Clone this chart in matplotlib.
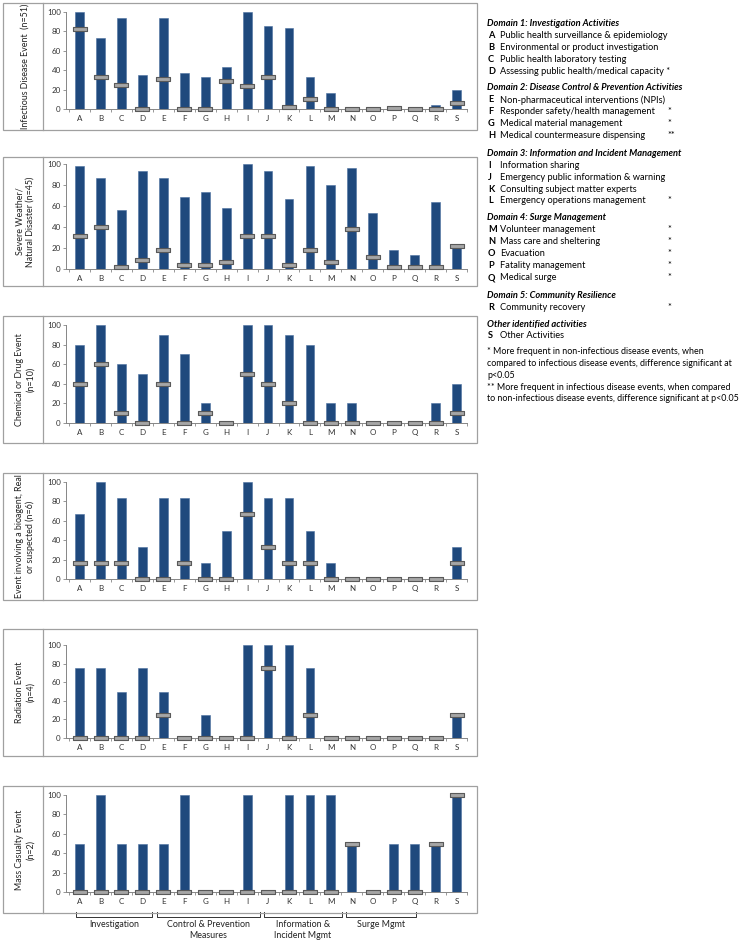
import numpy as np
import matplotlib
matplotlib.use("Agg")
import matplotlib.pyplot as plt
from matplotlib.path import Path
from matplotlib.patches import Rectangle
from matplotlib.lines import Line2D
from matplotlib.transforms import blended_transform_factory

plt.rcParams['font.family'] = ['Lato', 'DejaVu Sans']

W, H = 748, 944

letters = list("ABCDEFGHIJKLMNOPQRS")

# % of events with activity (bars) and % of activities (markers)
inf_pct = [100, 73, 94, 35, 94, 37, 33, 43, 100, 86, 84, 33, 16, 0, 0, 0, 0, 4, 20]
inf_mark = [82, 33, 25, 0, 31, 0, 0, 29, 24, 33, 2, 10, 0, 0, 0, 1, 0, 0.5, 6]

sev_pct = [98, 87, 56, 93, 87, 69, 73, 58, 100, 93, 67, 98, 80, 96, 53, 18, 13, 64, 22]
sev_mark = [31, 40, 2, 9, 18, 4, 4, 7, 31, 31, 4, 18, 7, 38, 11, 2, 2, 2, 22]

chem_pct = [80, 100, 60, 50, 90, 70, 20, 0, 100, 100, 90, 80, 20, 20, 0, 0, 0, 20, 40]
chem_mark = [40, 60, 10, 0, 40, 0, 10, 0, 50, 40, 20, 0, 0, 0, 0, 0, 0, 0, 10]

bio_pct = [67, 100, 83, 33, 83, 83, 17, 50, 100, 83, 83, 50, 17, 0, 0, 0, 0, 0, 33]
bio_mark = [17, 17, 17, 0, 0, 17, 0, 0, 67, 33, 17, 17, 0, 0, 0, 0, 0, 0, 17]

rad_pct = [75, 75, 50, 75, 50, 0, 25, 0, 100, 100, 100, 75, 0, 0, 0, 0, 0, 0, 25]
rad_mark = [0, 0, 0, 0, 25, 0, 0, 0, 0, 75, 0, 25, 0, 0, 0, 0, 0, 0, 25]

mc_pct = [50, 100, 50, 50, 50, 100, 0, 0, 100, 0, 100, 100, 100, 50, 0, 50, 50, 50, 100]
mc_mark = [0, 0, 0, 0, 0, 0, 0, 0, 0, 0, 0, 0, 0, 50, 0, 0, 0, 50, 100]

panel_labels = [
    "Infectious Disease Event  (n=51)",
    "Severe Weather/\nNatural Disaster (n=45)",
    "Chemical or Drug Event\n(n=10)",
    "Event involving a bioagent, Real\nor suspected (n=6)",
    "Radiation Event\n(n=4)",
    "Mass Casualty Event\n(n=2)",
]
panel_bars = [inf_pct, sev_pct, chem_pct, bio_pct, rad_pct, mc_pct]
panel_marks = [inf_mark, sev_mark, chem_mark, bio_mark, rad_mark, mc_mark]

group_names = ["Investigation", "Control & Prevention\nMeasures",
               "Information &\nIncident Mgmt", "Surge Mgmt"]

legend_sections = [
    ("Domain 1: Investigation Activities",
     [("A", "Public health surveillance & epidemiology", ""),
      ("B", "Environmental or product investigation", ""),
      ("C", "Public health laboratory testing", ""),
      ("D", "Assessing public health/medical capacity *", "")]),
    ("Domain 2: Disease Control & Prevention Activities",
     [("E", "Non-pharmaceutical interventions (NPIs)", ""),
      ("F", "Responder safety/health management", "*"),
      ("G", "Medical material management", "*"),
      ("H", "Medical countermeasure dispensing", "**")]),
    ("Domain 3: Information and Incident Management",
     [("I", "Information sharing", ""),
      ("J", "Emergency public information & warning", ""),
      ("K", "Consulting subject matter experts", ""),
      ("L", "Emergency operations management", "*")]),
    ("Domain 4: Surge Management",
     [("M", "Volunteer management", "*"),
      ("N", "Mass care and sheltering", "*"),
      ("O", "Evacuation", "*"),
      ("P", "Fatality management", "*"),
      ("Q", "Medical surge", "*")]),
    ("Domain 5: Community Resilience",
     [("R", "Community recovery", "*")]),
    ("Other identified activities",
     [("S", "Other Activities", "")]),
]
footnotes = [
    "* More frequent in non-infectious disease events, when",
    "compared to infectious disease events, difference significant at",
    "p<0.05",
    "** More frequent in infectious disease events, when compared",
    "to non-infectious disease events, difference significant at p<0.05",
]

BAR = '#1F497D'
MARK_FILL = '#A6A6A6'
MARK_EDGE = '#595959'
AXC = '#868686'

# pixel layout: (outer box top, outer box bottom, axis top(100), axis bottom(0))
layout = [(3, 130, 12, 109), (157, 286, 164, 269), (316, 443, 325, 423),
          (473, 600, 482, 579), (629, 756, 645, 738), (786, 913, 795, 892)]
AX_L, AX_R = 66, 467
BOX_L, BOX_R, DIV = 3, 477, 43

fig = plt.figure(figsize=(W / 100, H / 100), dpi=100)

mark_path = Path([(-1, -0.24), (1, -0.24), (1, 0.24), (-1, 0.24), (-1, -0.24)],
                 [Path.MOVETO, Path.LINETO, Path.LINETO, Path.LINETO, Path.CLOSEPOLY])

x = np.arange(len(letters))
axes = []
for i, (bt, bb, at, ab) in enumerate(layout):
    # outer frame and divider
    fig.add_artist(Rectangle((BOX_L / W, 1 - bb / H), (BOX_R - BOX_L) / W, (bb - bt) / H,
                             transform=fig.transFigure, fill=False, ec='#A0A0A0', lw=0.9))
    fig.add_artist(Line2D([DIV / W, DIV / W], [1 - bb / H, 1 - bt / H],
                          transform=fig.transFigure, color='#A0A0A0', lw=0.9))
    fig.text(25 / W, 1 - (bt + bb) / 2 / H, panel_labels[i], rotation=90,
             ha='center', va='center', fontsize=6.4, color='#222222',
             multialignment='center', linespacing=1.25)

    ax = fig.add_axes([AX_L / W, 1 - ab / H, (AX_R - AX_L) / W, (ab - at) / H])
    axes.append(ax)
    ax.bar(x, panel_bars[i], width=0.42, color=BAR, edgecolor='#4A6FA0', lw=0.4, zorder=2)
    ax.plot(x, panel_marks[i], ls='none', marker=mark_path, markersize=10.4,
            markerfacecolor=MARK_FILL, markeredgecolor=MARK_EDGE, markeredgewidth=0.8,
            zorder=3, clip_on=False)
    ax.set_xlim(-0.65, 18.5)
    ax.set_ylim(0, 100)
    ax.set_yticks(range(0, 101, 20))
    ax.set_xticks(x)
    ax.set_xticklabels(letters)
    ax.set_xticks(np.arange(-0.5, 19, 1), minor=True)
    ax.tick_params(axis='x', which='major', length=0, pad=4, labelsize=5.8, labelcolor='#333333')
    ax.tick_params(axis='x', which='minor', length=2.2, color=AXC, width=0.6)
    ax.tick_params(axis='y', length=2.2, width=0.6, color=AXC, pad=1.5, labelsize=5.8,
                   labelcolor='#333333')
    for s in ['top', 'right']:
        ax.spines[s].set_visible(False)
    for s in ['left', 'bottom']:
        ax.spines[s].set_color(AXC)
        ax.spines[s].set_linewidth(0.7)
    ax.set_facecolor('none')

# group brackets under the last panel
ax = axes[-1]
tr = blended_transform_factory(ax.transData, fig.transFigure)
spans = [(-0.17, 3.46), (3.70, 8.61), (8.81, 12.53), (12.72, 16.06)]
y_top, y_bot = 1 - 912 / H, 1 - 917 / H
for (a, b), name in zip(spans, group_names):
    ax.plot([a, a, b, b], [y_top, y_bot, y_bot, y_top], color='#333333', lw=0.7,
            transform=tr, clip_on=False)
    ax.text((a + b) / 2, 1 - 920 / H, name, transform=tr, ha='center', va='top',
            fontsize=6.4, color='#222222', linespacing=1.25)

# legend text on the right
FS = 6.7
y = 23
for head, rows in legend_sections:
    fig.text(487 / W, 1 - y / H, head, fontsize=FS, fontweight='bold', style='italic',
             va='center', ha='left')
    for let, desc, star in rows:
        y += 12
        fig.text(488 / W, 1 - y / H, let, fontsize=FS, fontweight='bold', va='center')
        fig.text(500 / W, 1 - y / H, desc, fontsize=FS, va='center')
        if star:
            fig.text(667 / W, 1 - y / H, star, fontsize=FS, va='center')
    y += 17
y -= 2
for line in footnotes:
    fig.text(487 / W, 1 - y / H, line, fontsize=6.4, va='center')
    y += 12

fig.savefig("out.png", dpi=100)
